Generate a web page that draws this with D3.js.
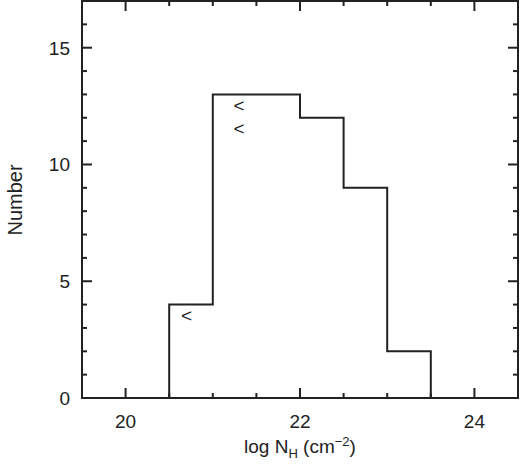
<!DOCTYPE html><html><head><script src="https://cdn.jsdelivr.net/npm/d3@7"></script>
<style>body{margin:0;background:#fff}text{font-family:"Liberation Sans",Arial,sans-serif;fill:#222}</style></head><body><svg width="520" height="464"></svg><script>
const binEdges=[20.5,21,21.5,22,22.5,23,23.5];
const counts=[4,13,13,12,9,2];
const limitX=[20.7,21.3,21.3];
const limitY=[3.5,12.5,11.5];
const xTicks=[20,22,24];
const yTicks=[0,5,10,15];
const svg=d3.select("svg");
const L=82,R=518,T=1,B=398;
const x=d3.scaleLinear().domain([19.5,24.5]).range([L,R]);
const y=d3.scaleLinear().domain([0,17]).range([B,T]);
const g=svg.append("g").attr("stroke","#222").attr("stroke-width",2).attr("fill","none");
let pts=[[binEdges[0],0]];
counts.forEach((c,i)=>{pts.push([binEdges[i],c]);pts.push([binEdges[i+1],c]);});
pts.push([binEdges[binEdges.length-1],0]);
g.append("path").attr("d",d3.line().x(d=>x(d[0])).y(d=>y(d[1]))(pts));
d3.range(19.5,24.51,0.5).forEach(v=>{const maj=Number.isInteger(v)&&v%2===0;const len=maj?10:5;
 g.append("line").attr("x1",x(v)).attr("x2",x(v)).attr("y1",B).attr("y2",B-len);
 g.append("line").attr("x1",x(v)).attr("x2",x(v)).attr("y1",T).attr("y2",T+len);});
d3.range(0,17.01,1).forEach(v=>{const len=v%5===0?10:5;
 g.append("line").attr("y1",y(v)).attr("y2",y(v)).attr("x1",L).attr("x2",L+len);
 g.append("line").attr("y1",y(v)).attr("y2",y(v)).attr("x1",R).attr("x2",R-len);});
g.append("rect").attr("x",L).attr("y",T).attr("width",R-L).attr("height",B-T);
svg.selectAll(".xt").data(xTicks).join("text").attr("x",d=>x(d)).attr("y",428).attr("text-anchor","middle").attr("font-size",19).text(d=>d);
svg.selectAll(".yt").data(yTicks).join("text").attr("x",70).attr("y",d=>y(d)+7).attr("text-anchor","end").attr("font-size",19).text(d=>d);
svg.selectAll(".lim").data(limitX).join("text").attr("x",d=>x(d)).attr("y",(d,i)=>y(limitY[i])+6).attr("text-anchor","middle").attr("font-size",19).text("<");
const xl=svg.append("text").attr("x",300).attr("y",453).attr("text-anchor","middle").attr("font-size",19);
xl.append("tspan").text("log N");xl.append("tspan").attr("font-size",13).attr("dy",5).text("H");
xl.append("tspan").attr("dy",-5).text(" (cm");xl.append("tspan").attr("font-size",13).attr("dy",-7).text("−2");
xl.append("tspan").attr("dy",7).text(")");
svg.append("text").attr("transform","translate(22,200) rotate(-90)").attr("text-anchor","middle").attr("font-size",20).text("Number");
</script></body></html>
